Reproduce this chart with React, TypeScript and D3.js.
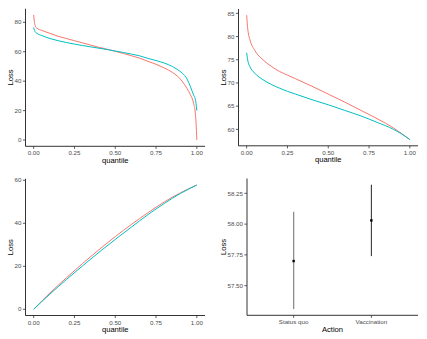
import React, { useEffect, useRef } from 'react'
import * as d3 from 'd3'

// quantile curves (top-left)
const qSorted = [0, 0.005, 0.01, 0.02, 0.05, 0.1, 0.15, 0.2, 0.25, 0.3, 0.35, 0.4, 0.45, 0.5, 0.55, 0.6, 0.65, 0.7, 0.75, 0.8, 0.85, 0.88, 0.91, 0.94, 0.96, 0.98, 0.99, 0.995, 1]
const sortedStatusQuo = [85, 80, 77.5, 76, 74.5, 72.5, 70.5, 69, 67.5, 66, 64.5, 63, 61.7, 60.3, 58.8, 57.3, 55.6, 53.5, 51.5, 49, 46, 43.5, 40, 35, 31, 25, 19, 12, 0]
const sortedVaccination = [76.5, 74.5, 73.5, 72.5, 71, 69, 67.5, 66.3, 65.2, 64.2, 63.3, 62.4, 61.5, 60.5, 59.5, 58.4, 57.2, 55.5, 54, 52.3, 50, 48, 45.5, 41.5, 36.5, 30.6, 28, 25, 20]

// tail mean curves (top-right)
const qTail = [0, 0.005, 0.01, 0.02, 0.05, 0.1, 0.15, 0.2, 0.25, 0.3, 0.4, 0.5, 0.6, 0.7, 0.8, 0.9, 0.95, 1]
const tailStatusQuo = [84.6, 82.2, 80.8, 79.3, 77.0, 75.0, 73.6, 72.5, 71.7, 70.9, 69.3, 67.6, 65.9, 64.1, 62.3, 60.3, 59.1, 57.8]
const tailVaccination = [76.5, 75.2, 74.4, 73.5, 72.1, 70.7, 69.7, 68.9, 68.2, 67.6, 66.4, 65.3, 64.1, 62.9, 61.5, 60.0, 59.0, 57.8]

// cumulative curves (bottom-left)
const qCum = [0, 0.1, 0.2, 0.3, 0.4, 0.5, 0.6, 0.7, 0.8, 0.9, 1]
const cumStatusQuo = [0, 7.6, 14.6, 21.3, 27.7, 33.8, 39.5, 44.9, 49.9, 54.2, 57.8]
const cumVaccination = [0, 7.1, 13.8, 20.2, 26.5, 32.5, 38.3, 44.0, 49.2, 53.9, 57.8]

// point ranges (bottom-right)
const actions = ['Status quo', 'Vaccination']
const actionMean = [57.70, 58.03]
const actionLow = [57.31, 57.74]
const actionHigh = [58.10, 58.32]

const qTicks = [0, 0.25, 0.5, 0.75, 1]
const red = '#F8766D'
const cyan = '#00BFC4'
const font = 'Liberation Sans, Arial, Helvetica, sans-serif'

const expand = (lo, hi) => {
  const pad = (hi - lo) * 0.05
  return [lo - pad, hi + pad]
}

const drawAxes = (g, x, y, box, yTicks, yFmt, xTicks, xFmt, xTitle, titleX) => {
  g.append('line')
    .attr('x1', box.left).attr('x2', box.left)
    .attr('y1', box.top).attr('y2', box.bottom)
    .attr('stroke', '#000').attr('stroke-width', 0.8)
  g.append('line')
    .attr('x1', box.left).attr('x2', box.right)
    .attr('y1', box.bottom).attr('y2', box.bottom)
    .attr('stroke', '#000').attr('stroke-width', 0.8)

  yTicks.forEach(t => {
    g.append('line')
      .attr('x1', box.left - 2.6).attr('x2', box.left)
      .attr('y1', y(t)).attr('y2', y(t))
      .attr('stroke', '#333').attr('stroke-width', 0.8)
    g.append('text')
      .attr('x', box.left - 4).attr('y', y(t))
      .attr('dy', '0.35em')
      .attr('text-anchor', 'end')
      .style('font-size', '6.2px').style('fill', '#4D4D4D')
      .text(yFmt(t))
  })
  xTicks.forEach(t => {
    g.append('line')
      .attr('x1', x(t)).attr('x2', x(t))
      .attr('y1', box.bottom).attr('y2', box.bottom + 2.6)
      .attr('stroke', '#333').attr('stroke-width', 0.8)
    g.append('text')
      .attr('x', x(t)).attr('y', box.bottom + 9)
      .attr('text-anchor', 'middle')
      .style('font-size', '6.2px').style('fill', '#4D4D4D')
      .text(xFmt(t))
  })
  g.append('text')
    .attr('x', (box.left + box.right) / 2).attr('y', box.bottom + 16.5)
    .attr('text-anchor', 'middle')
    .style('font-size', '7.6px').style('fill', '#000')
    .text(xTitle)
  g.append('text')
    .attr('transform', `translate(${titleX},${(box.top + box.bottom) / 2}) rotate(-90)`)
    .attr('text-anchor', 'middle')
    .style('font-size', '7.6px').style('fill', '#000')
    .text('Loss')
}

const linePanel = (svg, box, qs, a, b, yTicks, titleX) => {
  const g = svg.append('g')
  const x = d3.scaleLinear().domain(expand(0, 1)).range([box.left, box.right])
  const all = a.concat(b)
  const y = d3.scaleLinear().domain(expand(d3.min(all), d3.max(all))).range([box.bottom, box.top])
  const line = d3.line()
    .x((d, i) => x(qs[i]))
    .y(d => y(d))
    .curve(d3.curveMonotoneX)
  ;[[a, red], [b, cyan]].forEach(([vals, col]) => {
    g.append('path')
      .attr('d', line(vals))
      .attr('fill', 'none')
      .attr('stroke', col)
      .attr('stroke-width', 1)
  })
  drawAxes(g, x, y, box, yTicks, d3.format('d'), qTicks, d3.format('.2f'), 'quantile', titleX)
}

const App = () => {
  const ref = useRef(null)

  useEffect(() => {
    const svg = d3.select(ref.current)
    svg.selectAll('*').remove()
    svg.style('font-family', font)

    linePanel(svg, { left: 25.5, right: 205, top: 8.7, bottom: 146.3 },
      qSorted, sortedStatusQuo, sortedVaccination, [0, 20, 40, 60, 80], 12.7)
    linePanel(svg, { left: 238.5, right: 418, top: 9, bottom: 145.8 },
      qTail, tailStatusQuo, tailVaccination, [60, 65, 70, 75, 80, 85], 225.7)
    linePanel(svg, { left: 25.5, right: 205, top: 178.8, bottom: 315.5 },
      qCum, cumStatusQuo, cumVaccination, [0, 20, 40, 60], 12.7)

    // point range panel
    const box = { left: 247, right: 418, top: 178.5, bottom: 315.3 }
    const g = svg.append('g')
    const step = (box.right - box.left) / (actions.length - 1 + 1.2)
    const x = d3.scalePoint().domain(actions)
      .range([box.left + 0.6 * step, box.right - 0.6 * step])
    const y = d3.scaleLinear()
      .domain(expand(d3.min(actionLow), d3.max(actionHigh)))
      .range([box.bottom, box.top])
    const barColors = ['#8C8C8C', '#262626']
    const barWidths = [1.3, 1]
    actions.forEach((a, i) => {
      g.append('line')
        .attr('x1', x(a)).attr('x2', x(a))
        .attr('y1', y(actionLow[i])).attr('y2', y(actionHigh[i]))
        .attr('stroke', barColors[i]).attr('stroke-width', barWidths[i])
      g.append('rect')
        .attr('x', x(a) - 1.2).attr('y', y(actionMean[i]) - 1.2)
        .attr('width', 2.4).attr('height', 2.4)
        .attr('fill', '#000')
    })
    drawAxes(g, x, y, box, [57.5, 57.75, 58, 58.25], d3.format('.2f'),
      actions, d => d, 'Action', 225.7)
  }, [])

  return (
    <svg
      ref={ref}
      width={427}
      height={339}
      style={{ position: 'absolute', left: 0, top: 0, background: '#fff' }}
    />
  )
}

export default App
